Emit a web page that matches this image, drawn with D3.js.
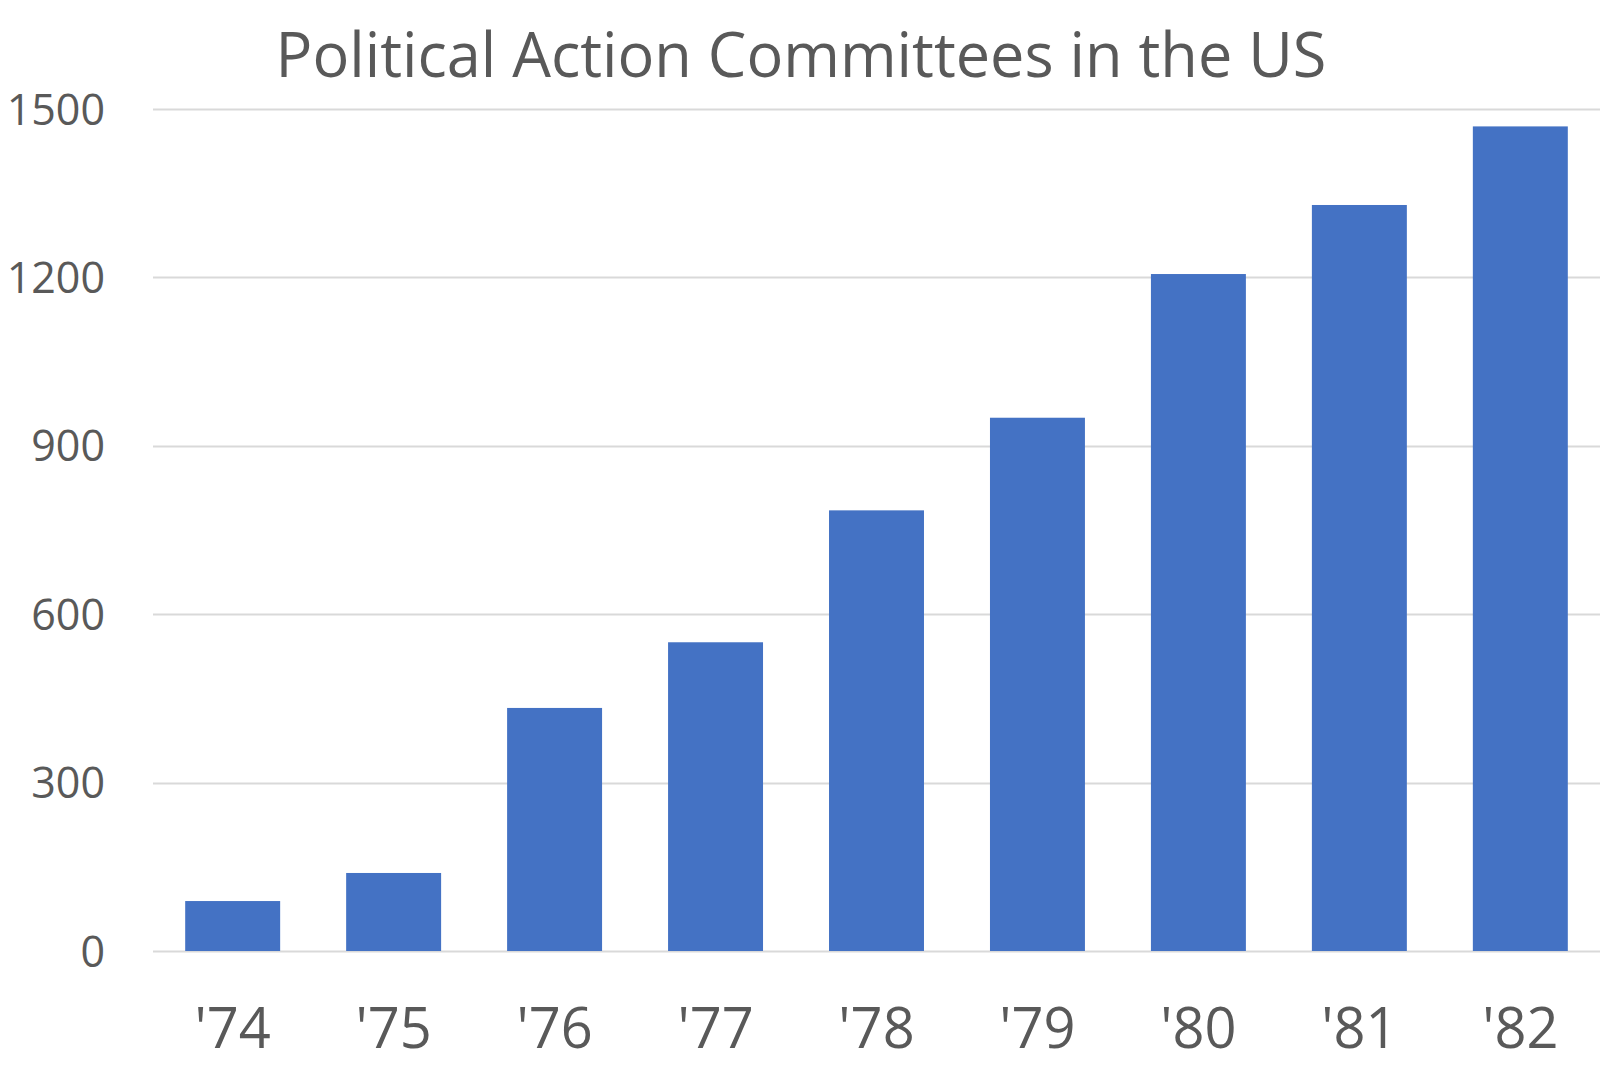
<!DOCTYPE html>
<html>
<head>
<meta charset="utf-8">
<script src="https://cdn.jsdelivr.net/npm/d3@7"></script>
<style>
  html, body { margin: 0; padding: 0; background: #ffffff; }
  svg { display: block; }
  text { font-family: "Open Sans", "Noto Sans", sans-serif; fill: #595959; }
</style>
</head>
<body>
<svg id="chart" width="1600" height="1067"></svg>
<script>
const titleText = "Political Action Committees in the US";
const categories = ["'74", "'75", "'76", "'77", "'78", "'79", "'80", "'81", "'82"];
const values = [89, 139, 433, 550, 785, 950, 1206, 1329, 1469];
const yTicks = [0, 300, 600, 900, 1200, 1500];

const svg = d3.select("#chart");
const plot = { left: 153, right: 1600, top: 109, bottom: 951 };

const x = d3.scaleBand()
  .domain(categories)
  .range([plot.left, plot.right])
  .paddingInner(0.41)
  .paddingOuter(0.2);

const y = d3.scaleLinear()
  .domain([0, 1500])
  .range([plot.bottom, plot.top]);

// gridlines
svg.append("g").selectAll("line")
  .data(yTicks)
  .join("line")
  .attr("x1", plot.left)
  .attr("x2", plot.right)
  .attr("y1", d => Math.round(y(d)) + 0.5)
  .attr("y2", d => Math.round(y(d)) + 0.5)
  .attr("stroke", "#d9d9d9")
  .attr("stroke-width", 2);

// y axis labels
const yAxis = d3.axisLeft(y).tickValues(yTicks).tickFormat(d3.format("d")).tickSize(0).tickPadding(0);
const yg = svg.append("g")
  .attr("transform", `translate(${plot.left - 48},0)`)
  .call(yAxis);
yg.select(".domain").remove();
yg.selectAll("text")
  .attr("font-size", 43)
  .attr("dy", "0.35em")
  .style("font-family", '"Open Sans", sans-serif')
  .style("fill", "#595959");

// bars
svg.append("g").selectAll("rect")
  .data(values)
  .join("rect")
  .attr("x", (d, i) => x(categories[i]))
  .attr("width", x.bandwidth())
  .attr("y", d => y(d))
  .attr("height", d => y(0) - y(d))
  .attr("fill", "#4472c4");

// x axis labels
const xAxis = d3.axisBottom(x).tickSize(0).tickPadding(0);
const xg = svg.append("g")
  .attr("transform", `translate(0,${plot.bottom})`)
  .call(xAxis);
xg.select(".domain").remove();
xg.selectAll("text")
  .attr("font-size", 56)
  .attr("y", 97)
  .attr("dy", 0)
  .style("font-family", '"Open Sans", sans-serif')
  .style("fill", "#595959");

// title
const title = svg.append("text")
  .attr("x", 801)
  .attr("y", 77)
  .attr("text-anchor", "middle")
  .attr("font-size", 60)
  .text(titleText);
const w = title.node().getComputedTextLength();
title.attr("font-size", 60 * 1051 / w);
</script>
</body>
</html>
